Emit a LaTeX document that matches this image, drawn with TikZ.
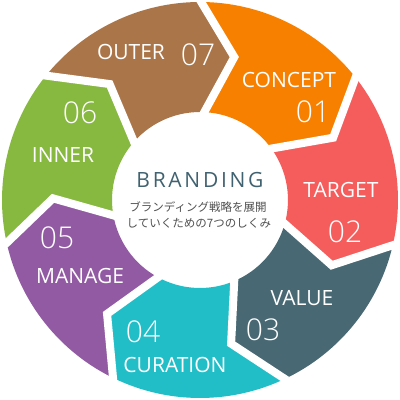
\documentclass[tikz,border=0pt]{standalone}
\usepackage{fontspec}
\setmainfont{Open Sans}
\newfontfamily\numfont{Open Sans}[UprightFont=* Light]
\newfontfamily\jpfont{Noto Sans CJK JP}
\newfontfamily\brandfont{Open Sans}[LetterSpace=13]
\definecolor{cOrange}{RGB}{247,128,0}
\definecolor{cRed}{RGB}{245,92,92}
\definecolor{cSlate}{RGB}{72,104,115}
\definecolor{cCyan}{RGB}{34,190,200}
\definecolor{cPurple}{RGB}{146,90,163}
\definecolor{cGreen}{RGB}{135,184,64}
\definecolor{cBrown}{RGB}{170,117,73}
\definecolor{cBrand}{RGB}{64,98,112}
\definecolor{cJp}{RGB}{80,80,80}
\begin{document}
\begin{tikzpicture}[x=1pt,y=1pt,
  lbl/.style={text=white,anchor=base,inner sep=0pt,font=\fontsize{21}{24}\selectfont},
  num/.style={text=white,anchor=base,inner sep=0pt,font=\numfont\fontsize{30}{34}\selectfont},
  jp/.style={text=cJp,anchor=base,inner sep=0pt,font=\jpfont\fontsize{11.5}{14}\selectfont}]
\useasboundingbox (-200,-200) rectangle (200,200);
\def\Ro{198}\def\Ri{88}\def\Rm{147}\def\dl{13.5}
\foreach \k/\col in {1/cOrange,2/cRed,3/cSlate,4/cCyan,5/cPurple,6/cGreen,7/cBrown}{
  \pgfmathsetmacro\ts{90-(\k-1)*360/7}
  \pgfmathsetmacro\te{90-\k*360/7}
  \pgfmathsetmacro\tet{\te-\dl}
  \pgfmathsetmacro\tst{\ts-\dl}
  \fill[\col] (\ts:\Ro) arc[start angle=\ts,end angle=\te,radius=\Ro]
    -- (\tet:\Rm) -- (\te:\Ri) arc[start angle=\te,end angle=\ts,radius=\Ri]
    -- (\tst:\Rm) -- cycle;
}
\foreach \k in {0,...,6}{
  \pgfmathsetmacro\t{90-\k*360/7}
  \pgfmathsetmacro\tt{\t-\dl}
  \draw[white,line width=8,line join=miter,miter limit=20] (\t:200) -- (\tt:\Rm) -- (\t:80);
}
\node[lbl] (outer) at (-69,141) {OUTER};
\node[num] (n07) at (-2,135) {07};
\node[lbl] (concept) at (89,113) {CONCEPT};
\node[num] (n01) at (113,78) {01};
\node[lbl] (target) at (141,3) {TARGET};
\node[num] (n02) at (145,-42) {02};
\node[lbl] (value) at (102,-105) {VALUE};
\node[num] (n03) at (63,-140) {03};
\node[num] (n04) at (-57,-142) {04};
\node[lbl] (curation) at (-25,-172) {CURATION};
\node[num] (n05) at (-143,-48) {05};
\node[lbl] (manage) at (-120,-83) {MANAGE};
\node[num] (n06) at (-120,77) {06};
\node[lbl] (inner) at (-137,38) {INNER};
\node[anchor=base,inner sep=0pt,text=cBrand,font=\brandfont\fontsize{21}{24}\selectfont] (brand) at (0,13) {BRANDING};
\node[jp] (jp1) at (-2,-11) {ブランディング戦略を展開};
\node[jp] (jp2) at (-1,-27) {していくための7つのしくみ};
\end{tikzpicture}
\end{document}
